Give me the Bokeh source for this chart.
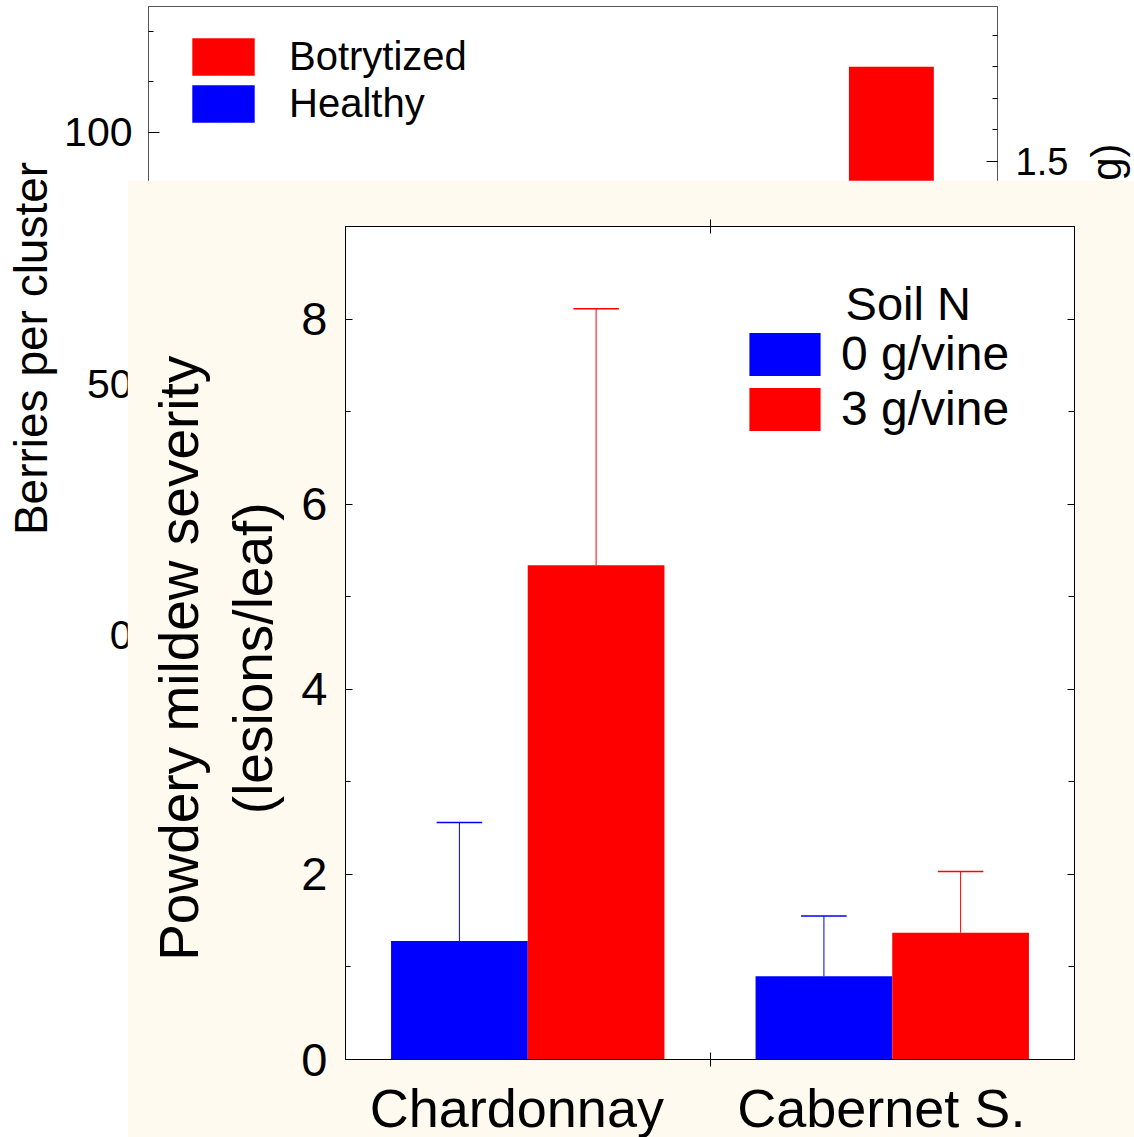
import math
from bokeh.plotting import figure
from bokeh.models import (Range1d, LinearAxis, SingleIntervalTicker, FixedTicker,
                          Legend, LegendItem, Label, ColumnDataSource)
from bokeh.embed import file_html
from bokeh.resources import INLINE

FONT = "Liberation Sans"
NAN = float("nan")
NBSP = "\u00a0"

# ---------------- data: inset (powdery mildew severity) ----------------
varieties = ["Chardonnay", "Cabernet S."]
soil_n_levels = ["0 g/vine", "3 g/vine"]
mildew_0g = [1.28, 0.90]
mildew_3g = [5.34, 1.37]
mildew_err_0g = [1.28, 0.65]
mildew_err_3g = [2.77, 0.66]

# ---------------- data: background chart (mostly hidden) ----------------
bg_series = ["Botrytized", "Healthy"]
bg_visible_varieties = ["Cabernet S."]
bg_berries_botrytized = [113]
bg_berries_healthy = [NAN]       # not visible (behind the inset)
bg_right_label = "Mean berry weight (g)"

# ---------------- layout constants ----------------
W, H = 1134, 1137
OFF = 0.1875
BW = 0.375
CAP = 0.0625
x_center = {v: i + 0.5 for i, v in enumerate(varieties)}


def series_source(vals, errs, off):
    xs = [x_center[v] + off for v in varieties]
    ups = [v + e for v, e in zip(vals, errs)]
    return ColumnDataSource(dict(x=xs, top=vals, up=ups,
                                 cl=[x - CAP for x in xs], cr=[x + CAP for x in xs]))


def style_axis(ax, size):
    ax.major_label_text_font = FONT
    ax.major_label_text_font_size = size
    ax.major_label_text_color = "black"
    ax.axis_label_text_font = FONT
    ax.axis_label_text_font_style = "normal"
    ax.axis_label_text_color = "black"
    ax.axis_line_color = "black"
    ax.major_tick_line_color = "black"
    ax.minor_tick_line_color = "black"


# ======================= background figure =======================
bg = figure(width=W, height=H, x_range=Range1d(0, 2), y_range=Range1d(-11, 125),
            output_backend="svg", toolbar_location=None,
            x_axis_location=None, y_axis_location=None,
            min_border_left=148, min_border_right=137, min_border_top=6, min_border_bottom=447)
bg.extra_y_ranges = {"weight": Range1d(1.992 - 684 / 315.0, 1.992)}
bg.background_fill_color = "white"
bg.border_fill_color = "white"
bg.outline_line_color = "#555555"
bg.xgrid.visible = False
bg.ygrid.visible = False

bl = LinearAxis(ticker=SingleIntervalTicker(interval=50, num_minor_ticks=5),
                axis_label="Berries per cluster")
style_axis(bl, "41px")
bl.axis_label_text_font_size = "46px"
bl.axis_line_color = "#555555"
bl.major_tick_in = 11
bl.major_tick_out = 0
bl.minor_tick_in = 5
bl.minor_tick_out = 0
bl.major_label_standoff = 16
bl.axis_label_standoff = 4
bg.add_layout(bl, "left")

br = LinearAxis(y_range_name="weight",
                ticker=SingleIntervalTicker(interval=0.5, num_minor_ticks=5))
style_axis(br, "38px")
br.axis_line_color = "#555555"
br.major_tick_in = 11
br.major_tick_out = 0
br.minor_tick_in = 5
br.minor_tick_out = 0
br.major_label_standoff = 18
bg.add_layout(br, "right")

bg_src_b = ColumnDataSource(dict(x=[x_center[v] + 0.25 for v in bg_visible_varieties],
                                 top=bg_berries_botrytized))
bg_src_h = ColumnDataSource(dict(x=[x_center[v] - 0.25 for v in bg_visible_varieties],
                                 top=bg_berries_healthy))
rb = bg.vbar(x="x", top="top", width=0.2, source=bg_src_b, fill_color="red", line_color=None)
rh = bg.vbar(x="x", top="top", width=0.2, source=bg_src_h, fill_color="blue", line_color=None)

bg_leg = Legend(items=[LegendItem(label=bg_series[0], renderers=[rb]),
                       LegendItem(label=bg_series[1], renderers=[rh])],
                location=(36, 563), glyph_width=78, glyph_height=47, label_standoff=27,
                spacing=0, padding=0, margin=0, border_line_color=None,
                background_fill_alpha=0, label_text_font=FONT, label_text_font_size="40px",
                label_text_color="black", label_height=40)
bg.add_layout(bg_leg)

# ============ strip to the right of the background chart: right-axis title ============
strip = figure(width=60, height=H, x_range=Range1d(0, 60), y_range=Range1d(0, H),
               output_backend="svg", toolbar_location=None,
               x_axis_location=None, y_axis_location=None, min_border=0)
strip.outline_line_color = None
strip.background_fill_alpha = 0
strip.border_fill_alpha = 0
strip.xgrid.visible = False
strip.ygrid.visible = False
strip.add_layout(Label(x=32, y=H - 143, text=bg_right_label, angle=math.pi / 2,
                       text_align="right", text_baseline="alphabetic", text_font=FONT,
                       text_font_size="42px", text_color="black"))

# ======================= inset figure =======================
inset = figure(width=1007, height=960, x_range=Range1d(0, 2), y_range=Range1d(0, 9),
               output_backend="svg", toolbar_location=None,
               x_axis_location=None, y_axis_location=None,
               min_border_left=218, min_border_right=60, min_border_top=46, min_border_bottom=81)
inset.background_fill_color = "white"
inset.border_fill_color = "floralwhite"
inset.outline_line_color = "black"
inset.xgrid.visible = False
inset.ygrid.visible = False

yl = LinearAxis(ticker=SingleIntervalTicker(interval=2, num_minor_ticks=2),
                axis_label="Powdery mildew severity" + NBSP * 2 + "\n(lesions/leaf)" + NBSP * 2)
style_axis(yl, "47px")
yl.axis_label_text_font_size = "55px"
yl.major_tick_in = 7
yl.major_tick_out = 0
yl.minor_tick_in = 5
yl.minor_tick_out = 0
yl.major_label_standoff = 18
yl.axis_label_standoff = 14
inset.add_layout(yl, "left")

yr = LinearAxis(ticker=SingleIntervalTicker(interval=2, num_minor_ticks=2),
                major_label_overrides={0: "", 2: "", 4: "", 6: "", 8: ""})
style_axis(yr, "10px")
yr.major_tick_in = 7
yr.major_tick_out = 0
yr.minor_tick_in = 6
yr.minor_tick_out = 0
inset.add_layout(yr, "right")

label_pos = [x_center[v] - 0.03 for v in varieties]
xb = LinearAxis(ticker=FixedTicker(ticks=label_pos, minor_ticks=[1.0]),
                major_label_overrides={p: v for p, v in zip(label_pos, varieties)})
style_axis(xb, "54px")
xb.major_tick_line_color = None
xb.major_tick_in = 0
xb.major_tick_out = 0
xb.minor_tick_in = 7
xb.minor_tick_out = 7
xb.major_label_standoff = 11
inset.add_layout(xb, "below")

xt = LinearAxis(ticker=FixedTicker(ticks=[], minor_ticks=[1.0]))
style_axis(xt, "10px")
xt.major_tick_in = 0
xt.major_tick_out = 0
xt.minor_tick_in = 7
xt.minor_tick_out = 7
inset.add_layout(xt, "above")

src0 = series_source(mildew_0g, mildew_err_0g, -OFF)
src3 = series_source(mildew_3g, mildew_err_3g, OFF)
r0 = inset.vbar(x="x", top="top", width=BW, source=src0, fill_color="blue", line_color=None)
r3 = inset.vbar(x="x", top="top", width=BW, source=src3, fill_color="red", line_color=None)
for src, col in ((src0, "blue"), (src3, "red")):
    inset.segment(x0="x", y0="top", x1="x", y1="up", source=src, line_color=col, line_width=1)
    inset.segment(x0="cl", y0="up", x1="cr", y1="up", source=src, line_color=col, line_width=1.5)

leg = Legend(items=[LegendItem(label=soil_n_levels[0], renderers=[r0]),
                    LegendItem(label=soil_n_levels[1], renderers=[r3])],
             location=(395, 623), glyph_width=89, glyph_height=54, label_standoff=12,
             spacing=0, padding=0, margin=0, border_line_color=None,
             background_fill_alpha=0, label_text_font=FONT, label_text_font_size="48px",
             label_text_color="black", label_height=48)
inset.add_layout(leg)

inset.add_layout(Label(x=1.372, y=8.17, text="Soil N", text_font=FONT,
                       text_font_size="47px", text_color="black", text_baseline="alphabetic"))

bg.styles = {"position": "absolute", "left": "0px", "top": "0px", "z-index": "1"}
strip.styles = {"position": "absolute", "left": "1074px", "top": "0px", "z-index": "2"}
inset.styles = {"position": "absolute", "left": "127px", "top": "180px", "z-index": "3"}

open("out.html", "w").write(file_html([bg, strip, inset], INLINE))
